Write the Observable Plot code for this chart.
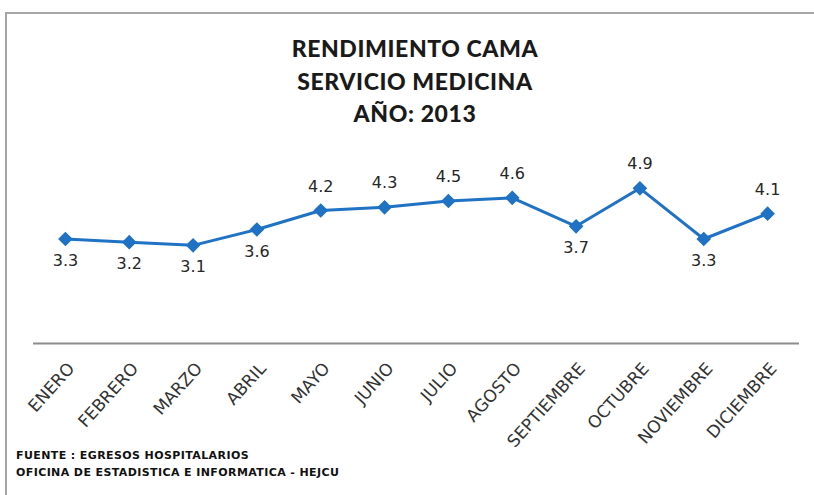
<!DOCTYPE html>
<html>
<head>
<meta charset="utf-8">
<script src="https://cdn.jsdelivr.net/npm/d3@7"></script>
<script src="https://cdn.jsdelivr.net/npm/@observablehq/plot@0.6"></script>
<style>
  html, body { margin: 0; padding: 0; background: #fff; overflow: hidden; }
  #wrap { position: relative; width: 814px; height: 495px; overflow: hidden; font-family: Lato, "Open Sans", sans-serif; }
  #frame { position: absolute; left: 5px; top: 12px; width: 900px; height: 600px; border: 2px solid #a6a6a6; box-sizing: border-box; }
  #title { position: absolute; left: 0; top: 32px; width: 830px; text-align: center; font-weight: 900; font-size: 23px; line-height: 32.5px; color: #1a1a1a; letter-spacing: 0.6px; }
  #chart { position: absolute; left: 0; top: 0; }
  #caption { position: absolute; left: 16px; top: 447px; font-family: "DejaVu Sans", sans-serif; font-weight: bold; font-size: 11px; line-height: 17px; color: #111; letter-spacing: 0.4px; }
</style>
</head>
<body>
<div id="wrap">
  <div id="frame"></div>
  <div id="chart"></div>
  <div id="title">RENDIMIENTO CAMA<br>SERVICIO MEDICINA<br>AÑO: 2013</div>
  <div id="caption">FUENTE : EGRESOS HOSPITALARIOS<br>OFICINA DE ESTADISTICA E INFORMATICA - HEJCU</div>
</div>
<script>
const months = ["ENERO","FEBRERO","MARZO","ABRIL","MAYO","JUNIO","JULIO","AGOSTO","SEPTIEMBRE","OCTUBRE","NOVIEMBRE","DICIEMBRE"];
const values = [3.3, 3.2, 3.1, 3.6, 4.2, 4.3, 4.5, 4.6, 3.7, 4.9, 3.3, 4.1];

const data = months.map((m, i) => ({month: m, value: values[i]}));
const below = data.filter(d => d.value < 4);
const above = data.filter(d => d.value >= 4);
const blue = "#1f72c4";

const chart = Plot.plot({
  width: 814,
  height: 495,
  marginLeft: 33,
  marginRight: 15,
  marginTop: 153,
  marginBottom: 152,
  style: {fontFamily: "'DejaVu Sans', sans-serif", background: "transparent"},
  x: {type: "point", domain: months, padding: 0.5, round: false, axis: null},
  y: {domain: [0, 6], axis: null},
  marks: [
    Plot.ruleY([0], {stroke: "#8c8c8c", strokeWidth: 2}),
    Plot.line(data, {x: "month", y: "value", stroke: blue, strokeWidth: 3}),
    Plot.dot(data, {x: "month", y: "value", symbol: "square", rotate: 45, r: 5, fill: blue, stroke: blue}),
    Plot.text(below, {x: "month", y: "value", text: d => d.value.toFixed(1), dy: 22, fontSize: 16, fill: "#262626"}),
    Plot.text(above, {x: "month", y: "value", text: d => d.value.toFixed(1), dy: -24, fontSize: 16, fill: "#262626"}),
    Plot.text(data, {x: "month", y: 0, text: "month", rotate: -48, textAnchor: "end", dx: 6, dy: 22, fontSize: 17, fill: "#333"})
  ]
});
document.getElementById("chart").appendChild(chart);
</script>
</body>
</html>
